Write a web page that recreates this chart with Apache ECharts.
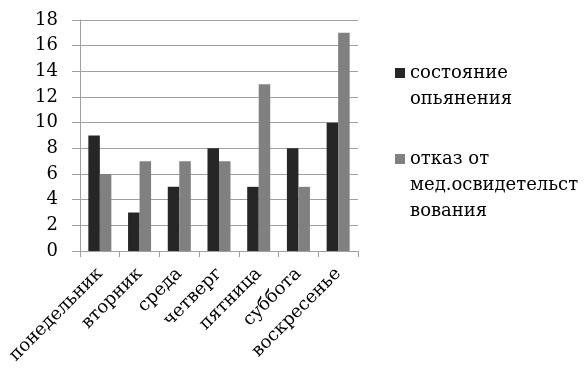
<!DOCTYPE html>
<html>
<head>
<meta charset="utf-8">
<script src="https://cdn.jsdelivr.net/npm/echarts@6/dist/echarts.min.js"></script>
<style>
html,body{margin:0;padding:0;background:#fff;}
#chart{width:585px;height:368px;}
</style>
</head>
<body>
<div id="chart"></div>
<script>
const categories = ['понедельник','вторник','среда','четверг','пятница','суббота','воскресенье'];
const seriesNames = ['состояние опьянения','отказ от мед.освидетельствования'];
const intoxication = [9, 3, 5, 8, 5, 8, 10];
const refusal = [6, 7, 7, 7, 13, 5, 17];
const legendLines1 = ['состояние', 'опьянения'];
const legendLines2 = ['отказ от', 'мед.освидетельст', 'вования'];
const yMin = 0, yMax = 18, yStep = 2;

const FONT = 'DejaVu Serif';
const FS = 18;
const chart = echarts.init(document.getElementById('chart'));
const lh = 26;
// leading blank lines make the first text line sit level with the legend icon
const pad = (lines) => Array(lines.length - 1).fill(' ').concat(lines).join('\n');
chart.setOption({
  animation: false,
  textStyle: {fontFamily: FONT},
  grid: {left: 80, right: 227, top: 20, bottom: 117, containLabel: false},
  legend: [
    {
      data: [seriesNames[0]], left: 395, top: 34, padding: 0, orient: 'vertical',
      itemWidth: 10, itemHeight: 10, icon: 'rect',
      formatter: () => pad(legendLines1),
      textStyle: {fontFamily: FONT, fontSize: FS, color: '#000', lineHeight: lh}
    },
    {
      data: [seriesNames[1]], left: 395, top: 94, padding: 0, orient: 'vertical',
      itemWidth: 10, itemHeight: 10, icon: 'rect',
      formatter: () => pad(legendLines2),
      textStyle: {fontFamily: FONT, fontSize: FS, color: '#000', lineHeight: lh}
    }
  ],
  xAxis: {
    type: 'category', data: categories,
    axisLine: {lineStyle: {color: '#a0a0a0', width: 1}},
    axisTick: {show: true, length: 6, alignWithLabel: false, lineStyle: {color: '#a0a0a0'}},
    axisLabel: {rotate: 45, interval: 0, margin: 20, fontFamily: FONT, fontSize: FS, color: '#000'}
  },
  yAxis: {
    type: 'value', min: yMin, max: yMax, interval: yStep,
    axisLine: {show: true, lineStyle: {color: '#a0a0a0', width: 1}},
    axisTick: {show: true, length: 8, lineStyle: {color: '#a0a0a0'}},
    splitLine: {show: true, lineStyle: {color: '#a0a0a0', width: 1}},
    axisLabel: {margin: 22, fontFamily: FONT, fontSize: FS, color: '#000'}
  },
  series: [
    {name: seriesNames[0], type: 'bar', data: intoxication, barGap: '0%', barCategoryGap: '42%',
     itemStyle: {color: '#262626'}},
    {name: seriesNames[1], type: 'bar', data: refusal, barGap: '0%', barCategoryGap: '42%',
     itemStyle: {color: '#808080'}}
  ]
});
</script>
</body>
</html>
